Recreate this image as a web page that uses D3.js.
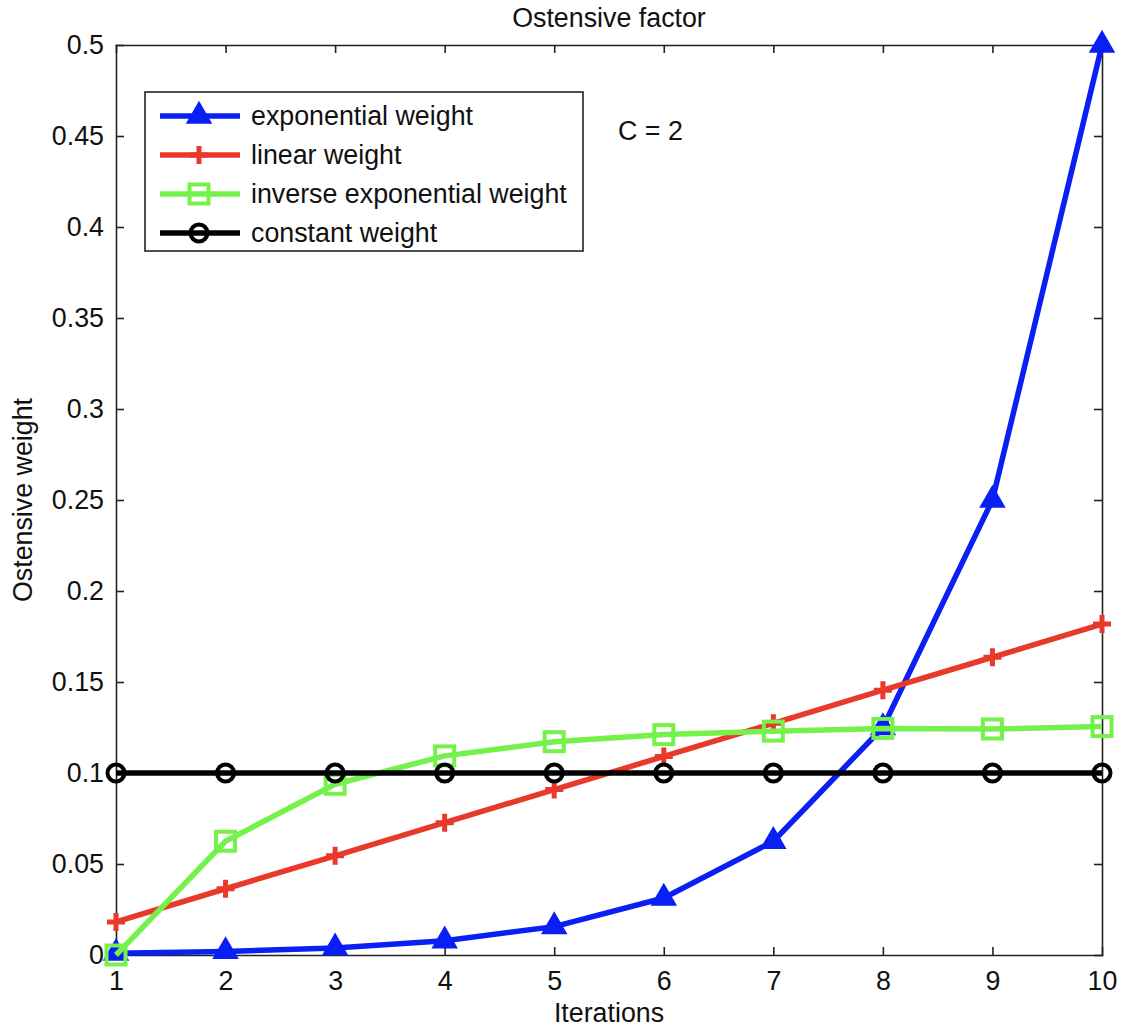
<!DOCTYPE html>
<html>
<head>
<meta charset="utf-8">
<script src="https://cdn.jsdelivr.net/npm/d3@7"></script>
<style>
  body { margin: 0; background: #fff; }
  svg { font-family: "Liberation Sans", Arial, sans-serif; }
  .axis text { font-size: 26.8px; fill: #111; }
  .axis path, .axis line { stroke: #222; stroke-width: 1.6px; }
</style>
</head>
<body>
<script>
// Data
var iterations = [1, 2, 3, 4, 5, 6, 7, 8, 9, 10];
var exponentialWeight = [0.00098, 0.00195, 0.0039, 0.0078, 0.0156, 0.0313, 0.0625, 0.125, 0.25, 0.5];
var linearWeight = [0.0182, 0.0364, 0.0545, 0.0727, 0.0909, 0.1091, 0.1273, 0.1455, 0.1636, 0.1818];
var inverseExpWeight = [0, 0.0625, 0.0938, 0.1094, 0.1172, 0.1211, 0.1230, 0.1245, 0.1242, 0.1255];
var constantWeight = [0.1, 0.1, 0.1, 0.1, 0.1, 0.1, 0.1, 0.1, 0.1, 0.1];

var seriesNames = ["exponential weight", "linear weight", "inverse exponential weight", "constant weight"];
var yTicks = [0, 0.05, 0.1, 0.15, 0.2, 0.25, 0.3, 0.35, 0.4, 0.45, 0.5];
var yTickLabels = ["0", "0.05", "0.1", "0.15", "0.2", "0.25", "0.3", "0.35", "0.4", "0.45", "0.5"];

// series styles (colour + marker)
var series = [
  {name: seriesNames[0], values: exponentialWeight, color: "#0a1ff4", marker: "triangle"},
  {name: seriesNames[1], values: linearWeight, color: "#e8392a", marker: "plus"},
  {name: seriesNames[2], values: inverseExpWeight, color: "#74f14a", marker: "square"},
  {name: seriesNames[3], values: constantWeight, color: "#000000", marker: "circle"}
];

var margin = {top: 45, right: 21, bottom: 73, left: 116},
    width = 1123 - margin.left - margin.right,
    height = 1028 - margin.top - margin.bottom;

var x = d3.scaleLinear().domain([1, 10]).range([0, width]);
var y = d3.scaleLinear().domain([0, 0.5]).range([height, 0]);

var svg = d3.select("body").append("svg")
    .attr("width", 1123)
    .attr("height", 1028);

var g = svg.append("g")
    .attr("transform", "translate(" + margin.left + "," + margin.top + ")");

// axes, ticks point inward on all four sides
g.append("g")
    .attr("class", "axis")
    .attr("transform", "translate(0," + height + ")")
    .call(d3.axisBottom(x).tickValues(iterations).tickFormat(d3.format("d"))
      .tickSizeInner(-8).tickSizeOuter(0).tickPadding(16));

g.append("g")
    .attr("class", "axis")
    .call(d3.axisTop(x).tickValues(iterations).tickFormat("")
      .tickSizeInner(-8).tickSizeOuter(0));

g.append("g")
    .attr("class", "axis")
    .call(d3.axisLeft(y).tickValues(yTicks)
      .tickFormat(function(d, i) { return yTickLabels[i]; })
      .tickSizeInner(-8).tickSizeOuter(0).tickPadding(12));

g.append("g")
    .attr("class", "axis")
    .attr("transform", "translate(" + width + ",0)")
    .call(d3.axisRight(y).tickValues(yTicks).tickFormat("")
      .tickSizeInner(-8).tickSizeOuter(0));

g.selectAll(".axis .domain").attr("stroke-linecap", "square");

// marker drawing helper
function drawMarker(sel, type, color) {
  if (type === "triangle") {
    sel.append("path")
      .attr("d", d3.symbol().type(d3.symbolTriangle).size(230)())
      .attr("fill", color).attr("stroke", color).attr("stroke-width", 2);
  } else if (type === "plus") {
    sel.append("path")
      .attr("d", "M-9,0H9M0,-9V9")
      .attr("stroke", color).attr("stroke-width", 5).attr("fill", "none");
  } else if (type === "square") {
    sel.append("rect")
      .attr("x", -9.5).attr("y", -9.5).attr("width", 19).attr("height", 19)
      .attr("fill", "none").attr("stroke", color).attr("stroke-width", 4);
  } else {
    sel.append("circle")
      .attr("r", 8.5)
      .attr("fill", "none").attr("stroke", color).attr("stroke-width", 4);
  }
}

var line = d3.line()
    .x(function(d, i) { return x(iterations[i]); })
    .y(function(d) { return y(d); });

series.forEach(function(s) {
  var sg = g.append("g");
  sg.append("path")
    .datum(s.values)
    .attr("fill", "none")
    .attr("stroke", s.color)
    .attr("stroke-width", 5.5)
    .attr("stroke-linejoin", "round")
    .attr("d", line);

  sg.selectAll(".pt")
    .data(s.values)
    .enter().append("g")
    .attr("transform", function(d, i) { return "translate(" + x(iterations[i]) + "," + y(d) + ")"; })
    .each(function() { drawMarker(d3.select(this), s.marker, s.color); });
});

// titles
svg.append("text")
    .attr("x", margin.left + width / 2)
    .attr("y", 27)
    .attr("text-anchor", "middle")
    .style("font-size", "26.8px")
    .attr("fill", "#111")
    .text("Ostensive factor");

svg.append("text")
    .attr("x", margin.left + width / 2)
    .attr("y", 1022)
    .attr("text-anchor", "middle")
    .style("font-size", "26.8px")
    .attr("fill", "#111")
    .text("Iterations");

svg.append("text")
    .attr("transform", "translate(32," + (margin.top + height / 2) + ") rotate(-90)")
    .attr("text-anchor", "middle")
    .style("font-size", "26.8px")
    .attr("fill", "#111")
    .text("Ostensive weight");

// legend
var legend = svg.append("g").attr("transform", "translate(145,92)");

legend.append("rect")
    .attr("width", 438)
    .attr("height", 159)
    .attr("fill", "#fff")
    .attr("stroke", "#222")
    .attr("stroke-width", 1.6);

series.forEach(function(s, i) {
  var row = legend.append("g").attr("transform", "translate(0," + (24 + i * 39) + ")");
  row.append("line")
    .attr("x1", 15).attr("x2", 95)
    .attr("stroke", s.color).attr("stroke-width", 5.5);
  var m = row.append("g").attr("transform", "translate(54,0)");
  drawMarker(m, s.marker, s.color);
  row.append("text")
    .attr("x", 106)
    .attr("dy", "0.35em")
    .style("font-size", "26.8px")
    .attr("fill", "#111")
    .text(s.name);
});

svg.append("text")
    .attr("x", 618)
    .attr("y", 140)
    .style("font-size", "26.8px")
    .attr("fill", "#111")
    .text("C = 2");
</script>
</body>
</html>
